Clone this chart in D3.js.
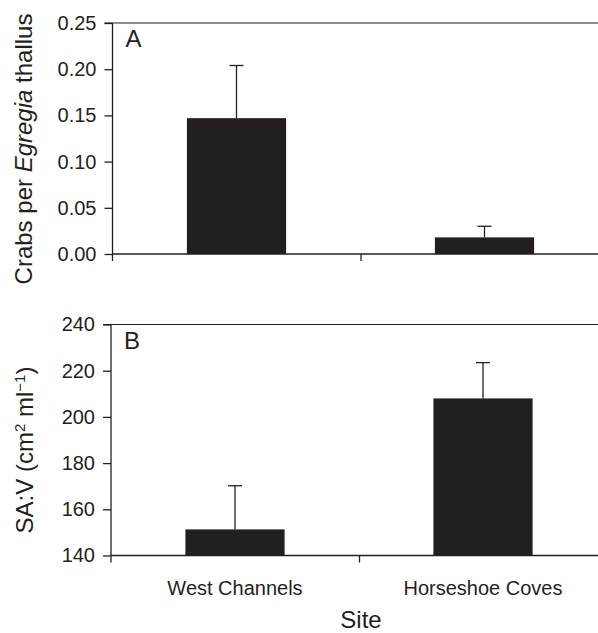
<!DOCTYPE html>
<html>
<head>
<meta charset="utf-8">
<title></title>
<script src="https://cdn.jsdelivr.net/npm/d3@7/dist/d3.min.js"></script>
<style>
body {margin:0; background:#fff;}
svg text {font-family:"Liberation Sans", Arial, Helvetica, sans-serif; fill:#231f20;}
</style>
</head>
<body>
<svg id="svg1" width="598" height="633"></svg>
<script>
// data
var sites = ['West Channels', 'Horseshoe Coves'];
var crabMean = [0.147, 0.018];
var crabSE = [0.057, 0.012];
var savMean = [151.3, 208];
var savSE = [18.9, 15.5];
var crabTicks = [0, 0.05, 0.10, 0.15, 0.20, 0.25];
var savTicks = [140, 160, 180, 200, 220, 240];

var ink = '#231f20';
var svg = d3.select('#svg1');

function panel(opt) {
  var g = svg.append('g');
  var x = d3.scaleBand().domain(sites).range([opt.left, opt.left + 496])
    .paddingInner(0.6).paddingOuter(0.3);
  var xb = d3.scaleLinear().domain([0, 2]).range([opt.left, opt.left + 496]);
  var y = d3.scaleLinear().domain(opt.domain).range([opt.bottom, opt.top]);

  // top border
  g.append('line')
    .attr('x1', opt.left - 8).attr('x2', 598)
    .attr('y1', y(opt.domain[1])).attr('y2', y(opt.domain[1]))
    .attr('stroke', ink).attr('stroke-width', 1.1);

  // bars
  g.selectAll('rect.bar').data(opt.mean).enter().append('rect')
    .attr('class', 'bar')
    .attr('x', function (d, i) { return x(sites[i]); })
    .attr('width', x.bandwidth())
    .attr('y', function (d) { return y(d); })
    .attr('height', function (d) { return y(opt.domain[0]) - y(d); })
    .attr('fill', ink);

  // error bars
  opt.mean.forEach(function (m, i) {
    var cx = x(sites[i]) + x.bandwidth() / 2;
    var top = y(m + opt.se[i]);
    g.append('line').attr('x1', cx).attr('x2', cx)
      .attr('y1', y(m)).attr('y2', top)
      .attr('stroke', ink).attr('stroke-width', 1.3);
    g.append('line').attr('x1', cx - 7).attr('x2', cx + 7)
      .attr('y1', top).attr('y2', top)
      .attr('stroke', ink).attr('stroke-width', 1.3);
  });

  // y axis
  var ya = g.append('g').attr('transform', 'translate(' + opt.left + ',0)')
    .call(d3.axisLeft(y).tickValues(opt.ticks).tickFormat(d3.format(opt.fmt))
      .tickSize(8).tickSizeOuter(0).tickPadding(8));
  ya.select('.domain').remove();
  ya.selectAll('line').attr('stroke', ink).attr('stroke-width', 1.3);
  ya.selectAll('text').style('font-size', '20px').attr('fill', ink);
  g.append('line').attr('x1', opt.left).attr('x2', opt.left)
    .attr('y1', y(opt.domain[1])).attr('y2', y(opt.domain[0]) + 7)
    .attr('stroke', ink).attr('stroke-width', 1.3);

  // x axis
  var xa = g.append('g').attr('transform', 'translate(0,' + y(opt.domain[0]) + ')')
    .call(d3.axisBottom(xb).tickValues([1]).tickFormat('').tickSize(7).tickSizeOuter(0));
  xa.select('.domain').remove();
  xa.selectAll('line').attr('stroke', ink).attr('stroke-width', 1.3);
  g.append('line').attr('x1', opt.left).attr('x2', 598)
    .attr('y1', y(opt.domain[0])).attr('y2', y(opt.domain[0]))
    .attr('stroke', ink).attr('stroke-width', 1.3);

  // panel letter
  g.append('text').attr('x', opt.left + 13).attr('y', y(opt.domain[1]) + 24)
    .style('font-size', '24px').text(opt.letter);

  return {g: g, x: x, y: y};
}

var pA = panel({left: 112.5, top: 23, bottom: 254, domain: [0, 0.25],
  mean: crabMean, se: crabSE, ticks: crabTicks, fmt: '.2f', letter: 'A'});
var pB = panel({left: 111, top: 324.5, bottom: 555.5, domain: [140, 240],
  mean: savMean, se: savSE, ticks: savTicks, fmt: 'd', letter: 'B'});

// category labels
svg.selectAll('text.cat').data(sites).enter().append('text')
  .attr('class', 'cat')
  .attr('x', function (d) { return pB.x(d) + pB.x.bandwidth() / 2; })
  .attr('y', 595)
  .attr('text-anchor', 'middle')
  .style('font-size', '20px')
  .text(function (d) { return d; });

// axis titles
svg.append('text').attr('x', 361).attr('y', 628).attr('text-anchor', 'middle')
  .style('font-size', '24px').text('Site');

var tA = svg.append('text').attr('transform', 'translate(32,149) rotate(-90)')
  .attr('text-anchor', 'middle').style('font-size', '24px');
tA.append('tspan').text('Crabs per ');
tA.append('tspan').style('font-style', 'italic').text('Egregia');
tA.append('tspan').text(' thallus');

var tB = svg.append('text').attr('transform', 'translate(33,450) rotate(-90)')
  .attr('text-anchor', 'middle').style('font-size', '24px');
tB.append('tspan').text('SA:V (cm');
tB.append('tspan').attr('dy', -8).style('font-size', '15px').text('2');
tB.append('tspan').attr('dy', 8).text(' ml');
tB.append('tspan').attr('dy', -8).style('font-size', '15px').text('\u22121');
tB.append('tspan').attr('dy', 8).text(')');
</script>
</body>
</html>
